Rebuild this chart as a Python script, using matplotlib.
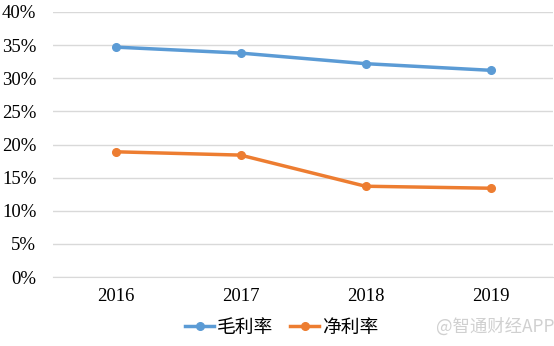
import matplotlib.pyplot as plt
from matplotlib.ticker import PercentFormatter

years = ["2016", "2017", "2018", "2019"]
gross_margin = [34.7, 33.8, 32.2, 31.2]
net_margin = [18.9, 18.4, 13.7, 13.4]
y_ticks = [0, 5, 10, 15, 20, 25, 30, 35, 40]

W, H = 554, 346
fig = plt.figure(figsize=(W / 100, H / 100), dpi=100)
ax = fig.add_axes([53 / W, 1 - 277 / H, 500 / W, 265 / H])

x = range(len(years))
ax.plot(x, gross_margin, color="#5b9bd5", lw=2.5, marker="o", ms=5.5, label="毛利率")
ax.plot(x, net_margin, color="#ed7d31", lw=2.5, marker="o", ms=5.5, label="净利率")

ax.set_xlim(-0.5, len(years) - 0.5)
ax.set_ylim(0, 40)
ax.set_yticks(y_ticks)
ax.yaxis.set_major_formatter(PercentFormatter(decimals=0))
ax.set_xticks(list(x))
ax.set_xticklabels(years)
ax.grid(axis="y", color="#d9d9d9", lw=1)
ax.set_axisbelow(True)
for s in ["top", "right", "left"]:
    ax.spines[s].set_visible(False)
ax.spines["bottom"].set_color("#d9d9d9")
ax.tick_params(length=0, labelsize=13.5, colors="black", pad=8)
for lab in ax.get_xticklabels() + ax.get_yticklabels():
    lab.set_fontfamily("Liberation Serif")
ax.tick_params(axis="y", pad=12)

leg = fig.legend(loc="center", bbox_to_anchor=(282 / W, 1 - 327 / H), ncol=2,
                 frameon=False, prop={"family": ["Noto Sans CJK SC", "DejaVu Sans"], "size": 13.5},
                 handlelength=1.5, columnspacing=0.9, handletextpad=0.2)

fig.text(495 / W, 1 - 327 / H, "@智通财经APP", ha="center", va="center", color="#d0d0d0",
         fontsize=12.5, family=["Noto Sans CJK SC", "DejaVu Sans"])

fig.savefig("out.png", dpi=100)
